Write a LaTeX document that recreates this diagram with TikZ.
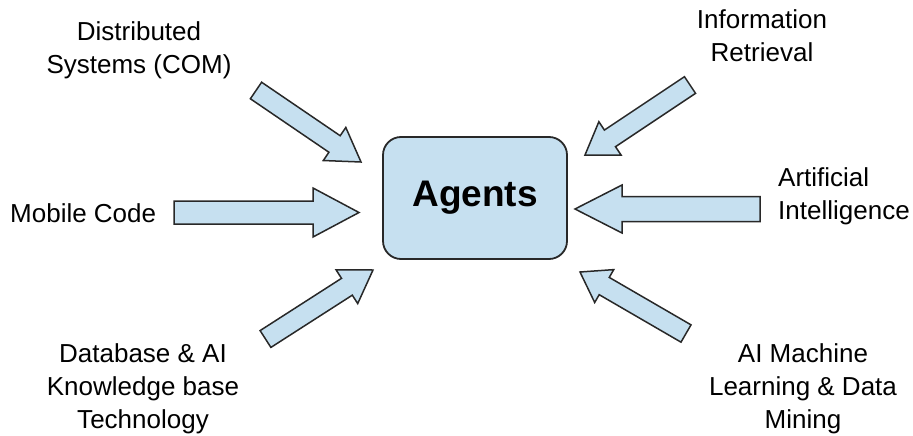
\documentclass[tikz,border=0pt]{standalone}
\usepackage{fontspec}
\setmainfont{Liberation Sans}
\usetikzlibrary{calc}
\definecolor{boxblue}{RGB}{198,224,240}
\definecolor{edgegray}{RGB}{40,40,40}
% Block arrow from #1 (tail) to #2 (tip): shaft half-width #3, head half-width #4, head length #5
\newcommand\fatarrow[5]{%
  \coordinate (fa-b) at ($(#2)!#5!(#1)$);
  \draw[blockarrow] ($(#1)!#3!90:(#2)$) -- ($(fa-b)!#3!-90:(#1)$) -- ($(fa-b)!#4!-90:(#1)$)
    -- (#2) -- ($(fa-b)!#4!90:(#1)$) -- ($(fa-b)!#3!90:(#1)$) -- ($(#1)!#3!-90:(#2)$) -- cycle;}
\begin{document}
\begin{tikzpicture}[x=1pt,y=-1pt,
  blockarrow/.style={draw=edgegray,fill=boxblue,line width=1.5pt,line join=miter},
  lbl/.style={inner sep=0pt,font=\fontsize{26}{33}\selectfont,align=center}]
\useasboundingbox (0,0) rectangle (913,436);

% central box
\node[draw=edgegray,fill=boxblue,line width=1.8pt,rounded corners=18pt,
      minimum width=184pt,minimum height=122pt,inner sep=0pt,
      font=\fontsize{37}{44}\selectfont\bfseries] (agents) at (475,198) {Agents};

% labels
\node[lbl] (dist) at (139,50.5) {Distributed\\Systems (COM)};
\node[lbl] (info) at (762,36) {Information\\Retrieval};
\node[lbl,anchor=west] (mobile) at (10,213) {Mobile Code};
\node[lbl,anchor=west,align=left] (ai) at (778,196.5) {Artificial\\Intelligence};
\node[lbl] (db) at (143,389) {Database \& AI\\Knowledge base\\Technology};
\node[lbl] (ml) at (803,389) {AI Machine\\Learning \& Data\\Mining};

% arrow ends
\coordinate (mobT) at (174,212.5);  \coordinate (mobH) at (359,212.5);
\coordinate (aiT)  at (760,209);    \coordinate (aiH)  at (575,209);
\coordinate (distT) at (256,90.5);  \coordinate (distH) at (361,162);
\coordinate (infoT) at (690,85);    \coordinate (infoH) at (585,155);
\coordinate (dbT) at (265.5,339);   \coordinate (dbH) at (373,270);
\coordinate (mlT) at (686,333.5);   \coordinate (mlH) at (580,272);

% arrows
\fatarrow{mobT}{mobH}{11.5pt}{24.5pt}{46pt}
\fatarrow{aiT}{aiH}{12.5pt}{24pt}{47pt}
\fatarrow{distT}{distH}{10pt}{20pt}{32pt}
\fatarrow{infoT}{infoH}{10pt}{20pt}{30pt}
\fatarrow{dbT}{dbH}{10pt}{20pt}{31pt}
\fatarrow{mlT}{mlH}{10pt}{19pt}{28pt}
\end{tikzpicture}
\end{document}
